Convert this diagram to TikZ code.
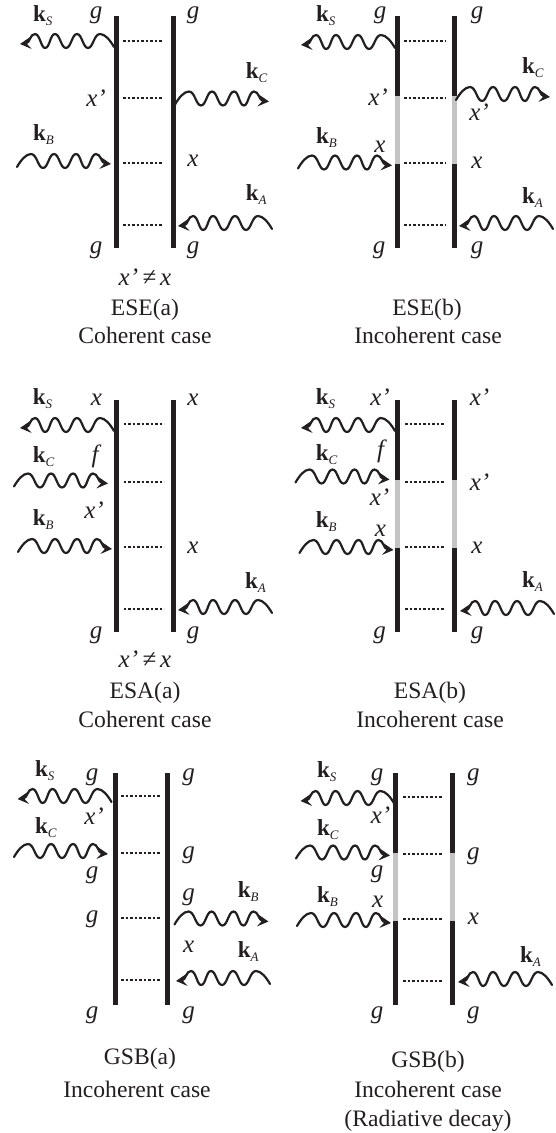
\documentclass[tikz,border=0pt]{standalone}
\usepackage{fontspec}
\setmainfont{Liberation Serif}
\usetikzlibrary{arrows.meta}
\newcount\nodeidx
\definecolor{inkblack}{HTML}{231F20}
\definecolor{railgray}{HTML}{C4C4C4}
\tikzset{
  rail/.style={draw=inkblack,line width=5pt},
  railgrey/.style={draw=railgray,line width=5pt},
  dotline/.style={draw=inkblack,line width=2.4pt,dash pattern=on 2.6pt off 1.9pt},
  wavy/.style={draw=inkblack,line width=2.2pt,line cap=round,-{Stealth[length=11pt,width=12pt,inset=4.5pt]}},
  itl/.style={anchor=base,inner sep=0pt,text=inkblack,font=\fontsize{25}{25}\selectfont\itshape},
  captxt/.style={anchor=base,inner sep=0pt,text=inkblack,font=\fontsize{23.6}{24}\selectfont},
  klab/.style={anchor=base west,inner sep=0pt,text=inkblack,font=\fontsize{23}{23}\selectfont},
}
% rails: x1, x2, y1, y2, panel name
\newcommand{\railpair}[5]{%
  \coordinate (#5lt) at (#1,#3); \coordinate (#5lb) at (#1,#4);
  \coordinate (#5rt) at (#2,#3); \coordinate (#5rb) at (#2,#4);
  \draw[rail] (#5lt) -- (#5lb);
  \draw[rail] (#5rt) -- (#5rb);
}
\newcommand{\graypair}[4]{%
  \draw[railgrey] (#1,#3) -- (#1,#4);
  \draw[railgrey] (#2,#3) -- (#2,#4);
}
\newcommand{\dotrow}[3]{\foreach \yy in {#3}{\draw[dotline] (#1,\yy) -- (#2,\yy);}}
\newcommand{\wv}[3]{%
  \begin{scope}[shift={(#1,#2)},xscale=#3]
    \draw[wavy] (0,3) .. controls (4,-4) and (9,-10) .. (14,-10)
      .. controls (20,-10) and (21,4) .. (26,4)
      .. controls (31,4) and (32,-10) .. (37,-10)
      .. controls (42,-10) and (43,4) .. (48,4)
      .. controls (53,4) and (54,-10) .. (59,-10)
      .. controls (64,-10) and (64,4) .. (69,4)
      .. controls (73,4) and (74,-10) .. (79,-10)
      .. controls (84,-10) and (84,-1) .. (94,0);
  \end{scope}}
\newcommand{\kl}[3]{\global\advance\nodeidx by 1
  \node[klab] (n\the\nodeidx) at (#1,#2) {\textbf{k}\raisebox{-4pt}{\fontsize{13}{13}\selectfont\textit{#3}}};}
\newcommand{\lab}[3]{\global\advance\nodeidx by 1
  \node[itl] (n\the\nodeidx) at (#1,#2) {#3};}
\newcommand{\cp}[3]{\global\advance\nodeidx by 1
  \node[captxt] (n\the\nodeidx) at (#1,#2) {#3};}
\begin{document}
\begin{tikzpicture}[x=1pt,y=-1pt]
\useasboundingbox (0,0) rectangle (555,1133);
\fill[white] (0,0) rectangle (555,1133);

% ESE(a)
\railpair{116}{173}{16}{248}{pa}
\dotrow{123}{163}{41,98,163,225}
\wv{114}{44}{-1}\wv{175}{101.5}{1}\wv{17}{164}{1}\wv{272}{226}{-1}
\kl{33}{21}{S}\kl{245.7}{78}{C}\kl{33}{140}{B}\kl{245.7}{200}{A}
\lab{96}{18}{g}\lab{193}{18}{g}\lab{96}{106}{x’}\lab{193}{166}{x}\lab{96}{253}{g}\lab{193}{253}{g}
\lab{145}{285}{x’\,≠\,x}
\cp{145}{315}{ESE(a)}\cp{145}{343}{Coherent case}

% ESE(b)
\railpair{397}{454}{16}{248}{pb}
\graypair{397}{454}{96}{164}
\dotrow{404}{445}{41,98,163,225}
\wv{395}{45}{-1}\wv{456}{97}{1}\wv{298}{165.5}{1}\wv{553}{226}{-1}
\kl{316}{21}{S}\kl{522}{73}{C}\kl{316}{143}{B}\kl{522}{203}{A}
\lab{380}{18}{g}\lab{477}{18}{g}\lab{378}{105}{x’}\lab{479}{120}{x’}\lab{380}{152}{x}\lab{477}{168}{x}\lab{379}{253}{g}\lab{477}{253}{g}
\cp{427}{315}{ESE(b)}\cp{428}{343}{Incoherent case}

% ESA(a)
\railpair{116}{173}{400}{632}{pc}
\dotrow{123.5}{164}{424,482,547,609}
\wv{114}{428}{-1}\wv{14}{483.5}{1}\wv{18}{549}{1}\wv{272}{610}{-1}
\kl{32.6}{404}{S}\kl{32.6}{462}{C}\kl{32.6}{525}{B}\kl{245}{588}{A}
\lab{96.5}{405}{x}\lab{193}{405}{x}\lab{95}{462}{f}\lab{94}{518}{x’}\lab{193}{553}{x}\lab{96}{638}{g}\lab{193}{638}{g}
\lab{145}{667}{x’\,≠\,x}
\cp{145}{698}{ESA(a)}\cp{145}{727}{Coherent case}

% ESA(b)
\railpair{397}{454}{400}{632}{pd}
\graypair{397}{454}{480}{548}
\dotrow{405}{445}{424,482,547,609}
\wv{395}{428}{-1}\wv{295.5}{479.5}{1}\wv{299.5}{550}{1}\wv{554}{611}{-1}
\kl{315.6}{404}{S}\kl{315.6}{460}{C}\kl{315.6}{527}{B}\kl{522}{587}{A}
\lab{380}{405}{x’}\lab{479.5}{405}{x’}\lab{380.5}{457}{f}\lab{379.5}{505}{x’}\lab{479.5}{490}{x’}\lab{380.5}{536}{x}\lab{477}{553}{x}\lab{379.5}{638}{g}\lab{477}{638}{g}
\cp{430}{698}{ESA(b)}\cp{430}{727}{Incoherent case}

% GSB(a)
\railpair{115.6}{167.4}{773}{1005}{pe}
\dotrow{121}{161}{796,853,918,980}
\wv{111.5}{799}{-1}\wv{14}{854}{1}\wv{174.5}{921.5}{1}\wv{270}{981}{-1}
\kl{34.8}{776}{S}\kl{34.8}{833}{C}\kl{237.6}{897}{B}\kl{237.6}{957}{A}
\lab{92}{780}{g}\lab{188.6}{780}{g}\lab{94}{824}{x’}\lab{188.6}{858}{g}\lab{92}{878}{g}\lab{188.6}{900}{g}\lab{92}{922}{g}\lab{188.6}{952}{x}\lab{92}{1018}{g}\lab{188.6}{1018}{g}
\cp{140}{1064}{GSB(a)}\cp{137}{1097}{Incoherent case}

% GSB(b)
\railpair{395.4}{452.5}{773}{1005}{pf}
\graypair{395.4}{452.5}{853}{921}
\dotrow{403}{443}{797,854,919,981}
\wv{394.5}{801}{-1}\wv{296}{855.5}{1}\wv{297}{923}{1}\wv{552}{982}{-1}
\kl{317}{777}{S}\kl{317}{835}{C}\kl{317}{902}{B}\kl{520}{962}{A}
\lab{377}{780}{g}\lab{473.4}{780}{g}\lab{380.5}{823}{x’}\lab{473.4}{859}{g}\lab{377}{877}{g}\lab{377.6}{907}{x}\lab{473.4}{924}{x}\lab{377}{1018}{g}\lab{473.4}{1018}{g}
\cp{428}{1067}{GSB(b)}\cp{428}{1097}{Incoherent case}\cp{428}{1126}{(Radiative decay)}
\end{tikzpicture}
\end{document}
